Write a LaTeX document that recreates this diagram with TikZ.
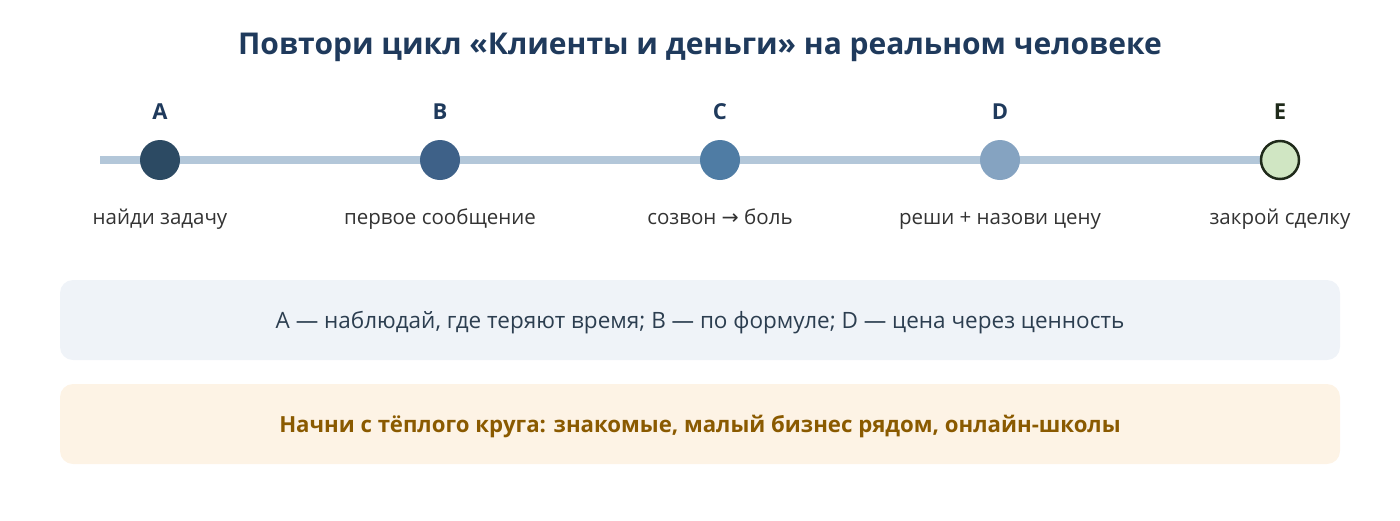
\documentclass[tikz,border=0pt]{standalone}
\usepackage{fontspec}
\setmainfont{Open Sans}
\newfontfamily\symfont{DejaVu Sans}
\begin{document}
\begin{tikzpicture}[x=1pt,y=-1pt,
  dot/.style={circle,minimum size=40pt,inner sep=0pt},
  letter/.style={font=\fontsize{22}{26}\selectfont\bfseries,text=titleblue},
  steplabel/.style={font=\fontsize{20.5}{24}\selectfont,text=labelgray,anchor=base},
  panel/.style={rounded corners=13pt,minimum width=1280pt,minimum height=80pt,inner sep=0pt}]
\definecolor{titleblue}{HTML}{1F3A5C}
\definecolor{labelgray}{HTML}{333333}
\definecolor{linecol}{HTML}{B3C7D9}
\definecolor{cA}{HTML}{2C4A63}
\definecolor{cB}{HTML}{3E6188}
\definecolor{cC}{HTML}{4F7CA4}
\definecolor{cD}{HTML}{85A3C1}
\definecolor{cE}{HTML}{D0E6C3}
\definecolor{cEd}{HTML}{1F2A1A}
\definecolor{box1}{HTML}{EFF3F8}
\definecolor{box2}{HTML}{FDF3E5}
\definecolor{box1t}{HTML}{2C3E50}
\definecolor{box2t}{HTML}{8A5A00}
\useasboundingbox (0,0) rectangle (1400,520);
\node[font=\fontsize{30}{34}\selectfont\bfseries,text=titleblue] (title) at (700,47) {Повтори цикл «Клиенты и деньги» на реальном человеке};
\coordinate (ls) at (100,160);
\coordinate (le) at (1280,160);
\draw[linecol,line width=8pt] (ls) -- (le);
\node[dot,fill=cA] (A) at (160,160) {};
\node[dot,fill=cB] (B) at (440,160) {};
\node[dot,fill=cC] (C) at (720,160) {};
\node[dot,fill=cD] (D) at (1000,160) {};
\node[dot,fill=cE,draw=cEd,line width=2.5pt,minimum size=38pt] (E) at (1280,160) {};
\node[letter] (lA) at (160,112) {A};
\node[letter] (lB) at (440,112) {B};
\node[letter] (lC) at (720,112) {C};
\node[letter] (lD) at (1000,112) {D};
\node[letter,text=cEd] (lE) at (1280,112) {E};
\node[steplabel] (tA) at (160,224) {найди задачу};
\node[steplabel] (tB) at (440,224) {первое сообщение};
\node[steplabel] (tC) at (720,224) {созвон {\symfont →} боль};
\node[steplabel] (tD) at (1000,224) {реши + назови цену};
\node[steplabel] (tE) at (1280,224) {закрой сделку};
\node[panel,fill=box1] (p1) at (700,320) {};
\node[font=\fontsize{22.5}{26}\selectfont,text=box1t] (p1t) at (700,323) {A — наблюдай, где теряют время; B — по формуле; D — цена через ценность};
\node[panel,fill=box2] (p2) at (700,424) {};
\node[font=\fontsize{22.2}{26}\selectfont\bfseries,text=box2t] (p2t) at (700,426) {Начни с тёплого круга: знакомые, малый бизнес рядом, онлайн-школы};
\end{tikzpicture}
\end{document}
